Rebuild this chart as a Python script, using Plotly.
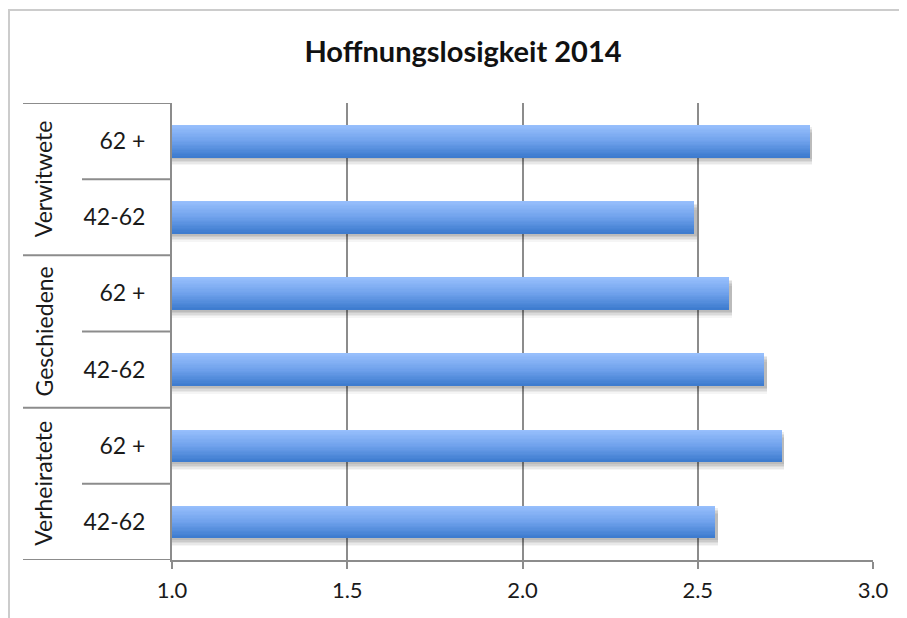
import plotly.graph_objects as go

# ---- data ----
groups = ["Verheiratete", "Geschiedene", "Verwitwete"]
age_labels = ["42-62", "62 +", "42-62", "62 +", "42-62", "62 +"]
group_of = ["Verheiratete", "Verheiratete", "Geschiedene", "Geschiedene", "Verwitwete", "Verwitwete"]
values = [2.55, 2.74, 2.69, 2.59, 2.49, 2.82]
x_ticks = [1.0, 1.5, 2.0, 2.5, 3.0]
title_text = "Hoffnungslosigkeit 2014"

FONT = "Lato"
OFF = 8  # page body margin
W, H = 907, 618
L, T = 172 - OFF, 103 - OFF
R = W - (873 - OFF)
B = H - (560 - OFF)
pw = W - L - R
ph = H - T - B

def px_x(page_x):
    return (page_x - OFF - L) / pw

ypos = list(range(len(values)))
bar_w = 0.42

fig = go.Figure()

# soft shadow layers (below / right of bars)
shadow_steps = [(0.11, 0.04), (0.09, 0.05), (0.07, 0.06), (0.05, 0.07), (0.03, 0.07)]
for dy, a in shadow_steps:
    fig.add_trace(go.Bar(
        x=[v + 0.007 for v in values], y=ypos, orientation="h",
        width=bar_w, offset=-bar_w / 2 - dy,
        marker=dict(color=f"rgba(0,0,0,{a})", line=dict(width=0)),
        hoverinfo="skip", showlegend=False,
    ))

# gradient bars: strips from top (light) to bottom (dark)
top_c = (151, 191, 252)
mid_c = (112, 162, 236)
bot_c = (62, 124, 207)
N = 24
for k in range(N):
    t = k / (N - 1)
    if t < 0.5:
        u = t / 0.5
        c = [round(top_c[i] + (mid_c[i] - top_c[i]) * u) for i in range(3)]
    else:
        u = (t - 0.5) / 0.5
        c = [round(mid_c[i] + (bot_c[i] - mid_c[i]) * u) for i in range(3)]
    sw = bar_w / N
    off = bar_w / 2 - (k + 1) * sw
    fig.add_trace(go.Bar(
        x=values, y=ypos, orientation="h",
        width=sw * 1.05, offset=off,
        marker=dict(color=f"rgb({c[0]},{c[1]},{c[2]})", line=dict(width=0)),
        hoverinfo="skip", showlegend=False,
    ))

grid_c = "#8c8c8c"
shapes = []
gx0 = px_x(23)
ix0 = px_x(82)
n = len(values)
for b in range(n + 1):
    yb = b - 0.5
    if b == 0 or b == n or group_of[b - 1] != group_of[b]:
        x0 = gx0
    else:
        x0 = ix0
    shapes.append(dict(type="line", xref="paper", yref="y", x0=x0, x1=0,
                       y0=yb, y1=yb, line=dict(color=grid_c, width=2), layer="above"))
# outer chart border
shapes.append(dict(type="rect", xref="paper", yref="paper",
                   x0=px_x(9), x1=px_x(W + 30),
                   y0=-(B + 30) / ph, y1=(ph + T - (10 - OFF)) / ph,
                   line=dict(color="#cccccc", width=2), fillcolor="rgba(0,0,0,0)", layer="below"))

annotations = []
for g in groups:
    idx = [i for i, gg in enumerate(group_of) if gg == g]
    yc = sum(idx) / len(idx)
    annotations.append(dict(text=g, xref="paper", yref="y", x=px_x(43), y=yc,
                            textangle=-90, showarrow=False, xanchor="center", yanchor="middle",
                            font=dict(family=FONT, size=23, color="#1a1a1a")))

fig.update_layout(
    width=W, height=H,
    margin=dict(l=L, r=R, t=T, b=B, autoexpand=False),
    paper_bgcolor="white", plot_bgcolor="white",
    barmode="overlay", bargap=0,
    showlegend=False,
    title=dict(text=f"<b>{title_text}</b>", x=(463 - OFF) / W, xref="container", xanchor="center",
               y=1 - (52 - OFF) / H, yref="container", yanchor="middle",
               font=dict(family=FONT, size=29, color="#111111")),
    font=dict(family=FONT, size=23, color="#1a1a1a"),
    shapes=shapes,
    annotations=annotations,
)
fig.update_xaxes(range=[1.0, 3.0], tickvals=x_ticks, ticktext=[f"{v:.1f}" for v in x_ticks],
                 showgrid=True, gridcolor=grid_c, gridwidth=2,
                 showline=True, linecolor=grid_c, linewidth=2,
                 ticks="outside", ticklen=7, tickcolor=grid_c, tickwidth=2,
                 ticklabelstandoff=3, zeroline=False,
                 tickfont=dict(family=FONT, size=22, color="#1a1a1a"))
fig.update_yaxes(range=[-0.5, n - 0.5], tickvals=ypos, ticktext=age_labels,
                 showgrid=False, showline=True, linecolor=grid_c, linewidth=2,
                 ticks="", ticklabelstandoff=20, zeroline=False,
                 tickfont=dict(family=FONT, size=23, color="#1a1a1a"))

fig.write_html("out.html")
